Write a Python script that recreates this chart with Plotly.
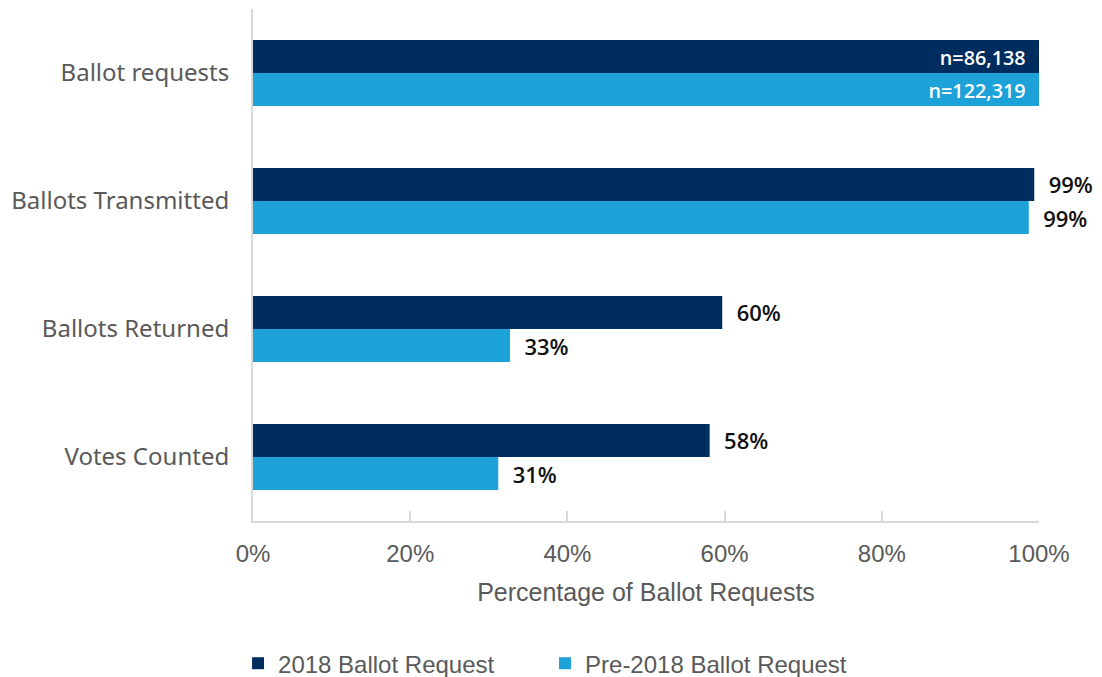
import plotly.graph_objects as go

categories = ["Ballot requests", "Ballots Transmitted", "Ballots Returned", "Votes Counted"]
series_names = ["2018 Ballot Request", "Pre-2018 Ballot Request"]
pct_2018 = [100, 99.4, 59.7, 58.1]
pct_pre2018 = [100, 98.7, 32.7, 31.2]
n_2018 = "n=86,138"
n_pre2018 = "n=122,319"
tick_vals = [0, 20, 40, 60, 80, 100]
tick_text = ["0%", "20%", "40%", "60%", "80%", "100%"]

colors = ["#002D5F", "#1CA1D8"]
label_font = "Open Sans"
axis_font = "Liberation Sans Narrow, Liberation Sans"


def bar_labels(values, n_label):
    texts, positions = [], []
    for i, v in enumerate(values):
        if i == 0:
            texts.append(f"{n_label}  ")
            positions.append("inside")
        else:
            texts.append(f"  {v:.0f}%")
            positions.append("outside")
    return texts, positions


fig = go.Figure()
for name, vals, nlab, col in [
    (series_names[0], pct_2018, n_2018, colors[0]),
    (series_names[1], pct_pre2018, n_pre2018, colors[1]),
]:
    txt, pos = bar_labels(vals, nlab)
    fig.add_trace(go.Bar(
        name=name, y=categories, x=vals, orientation="h",
        marker=dict(color=col, line=dict(width=0)),
        text=txt, textposition=pos, insidetextanchor="end",
        insidetextfont=dict(family=label_font, size=22, color="white", weight=600),
        outsidetextfont=dict(family=label_font, size=22, color="#111111", weight=600),
        cliponaxis=False,
    ))

fig.update_layout(
    width=1102, height=677,
    margin=dict(l=253, r=63, t=9, b=156),
    paper_bgcolor="white", plot_bgcolor="white",
    barmode="group", bargap=0.484, bargroupgap=0,
    showlegend=True,
    legend=dict(orientation="h", xref="container", x=0.216, xanchor="left",
                yref="container", y=0.053, yanchor="top",
                font=dict(family=axis_font, size=24, color="#595959"),
                entrywidth=262, traceorder="normal"),
    xaxis=dict(range=[0, 100], tickvals=tick_vals, ticktext=tick_text, automargin=False,
               showgrid=False, zeroline=False, showline=True, linecolor="#D9D9D9", linewidth=2,
               ticks="inside", ticklen=10, tickcolor="#D9D9D9", tickwidth=1.5,
               ticklabelstandoff=10,
               tickfont=dict(family=axis_font, size=24, color="#595959"),
               title=dict(text="Percentage of Ballot Requests", standoff=18,
                          font=dict(family=axis_font, size=25, color="#595959"))),
    yaxis=dict(autorange="reversed", showgrid=False, showline=True, linecolor="#D9D9D9", linewidth=2,
               ticks="", ticklabelstandoff=17, automargin=False,
               tickfont=dict(family="Noto Sans", size=24, color="#595959")),
)

fig.write_html("out.html")
